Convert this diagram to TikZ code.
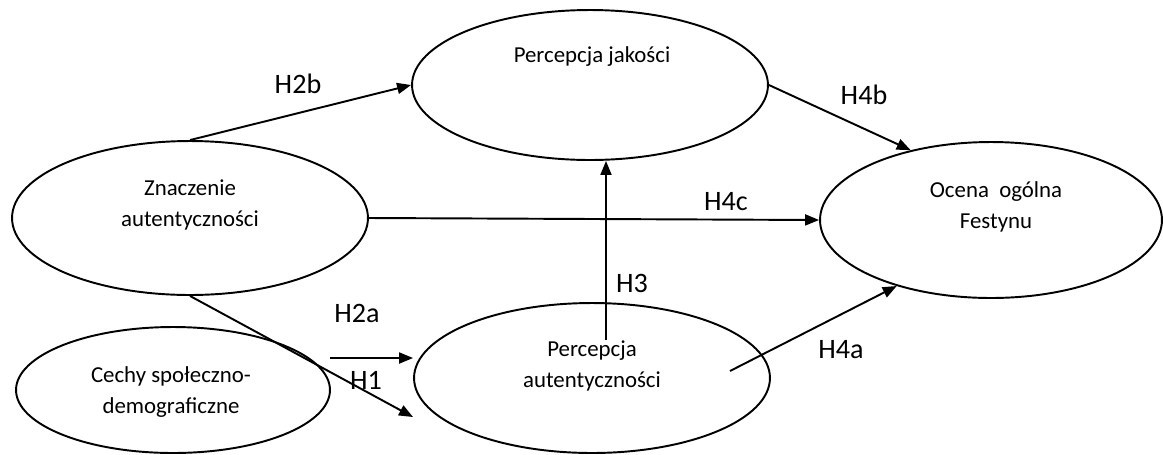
\documentclass[tikz,border=0pt]{standalone}
\usepackage{fontspec}
\setmainfont{Carlito}
\usetikzlibrary{shapes.geometric,arrows.meta,positioning}

\begin{document}
\begin{tikzpicture}[x=0.02cm,y=-0.02cm,
    oval/.style={draw,ellipse,line width=1.1pt,inner sep=0pt},
    txt/.style={align=center,font=\fontsize{13}{17.5}\selectfont},
    hyp/.style={font=\fontsize{16}{19}\selectfont},
    arr/.style={line width=1.1pt,-{Triangle[length=0.28cm,width=0.22cm]}}]
        \useasboundingbox (0,0) rectangle (1163,454);

        %the five ovals
        \node[oval,minimum width=7.12cm,minimum height=3cm] (jak) at (590,85) {};
        \node[oval,minimum width=7.12cm,minimum height=3.08cm] (znacz) at (190,218) {};
        \node[oval,minimum width=6.84cm,minimum height=3.12cm] (ocena) at (991,220) {};
        \node[oval,minimum width=6.28cm,minimum height=2.52cm] (cechy) at (173,390) {};
        \node[oval,minimum width=7.12cm,minimum height=3cm] (aut) at (592,378) {};

        \node[txt] (jakT) at (592,57) {Percepcja jakości};
        \node[txt] (znaczT) at (190,205) {Znaczenie\\autentyczności};
        \node[txt] (ocenaT) at (996,207) {Ocena\ \ ogólna\\Festynu};
        \node[txt] (cechyT) at (171,392) {Cechy społeczno-\\demograficzne};
        \node[txt] (autT) at (592,366) {Percepcja\\autentyczności};

        %free ends
        \coordinate (h3s) at (606,340);
        \coordinate (h2a) at (330,358);
        \coordinate (h1e) at (413,417);
        \coordinate (h4a) at (730,371);

        %arrows
        \draw[arr] (znacz.north) -- (jak.west);
        \draw[arr] (jak.east) -- (ocena.139);
        \draw[arr] (znacz.east) -- (ocena.west);
        \draw[arr] (h3s) -- (h3s |- jak.south);
        \draw[arr] (h2a) -- (h2a -| aut.west);
        \draw[arr] (znacz.south) -- (h1e);
        \draw[arr] (h4a) -- (ocena.215);

        %labels
        \node[hyp] (lH2b) at (298,84) {H2b};
        \node[hyp] (lH4b) at (864,95) {H4b};
        \node[hyp] (lH4c) at (726,202) {H4c};
        \node[hyp] (lH3) at (632,283) {H3};
        \node[hyp] (lH2a) at (357,313) {H2a};
        \node[hyp] (lH1) at (366,380) {H1};
        \node[hyp] (lH4a) at (841,350) {H4a};

\end{tikzpicture}
\end{document}
